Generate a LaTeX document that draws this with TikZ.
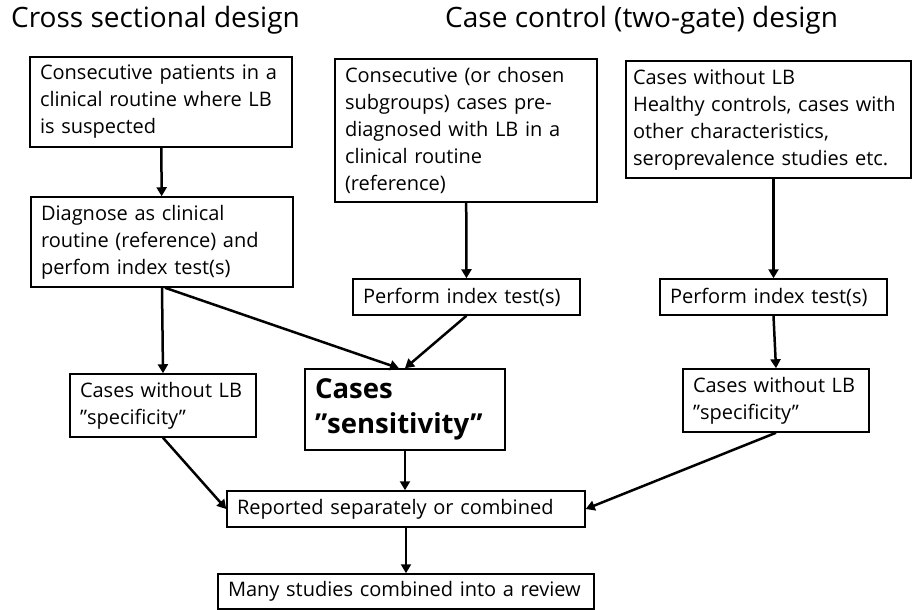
\documentclass[tikz,border=0pt]{standalone}
\usepackage{fontspec}
\setmainfont{Open Sans}
\usetikzlibrary{arrows.meta}
\begin{document}
\begin{tikzpicture}[x=1pt,y=-1pt,
  box/.style={draw, line width=1.5pt, align=left, inner xsep=10pt, inner ysep=0pt,
    font=\fontsize{20}{27}\selectfont},
  title/.style={anchor=base west, inner sep=0pt, font=\fontsize{28}{32}\selectfont},
  arr/.style={line width=2.5pt, -{Triangle[length=9pt,width=10pt]}}]
\useasboundingbox (0,0) rectangle (913,610);

\node[title] (t1) at (11,28) {Cross sectional design};
\node[title] (t2) at (445,28) {Case control (two-gate) design};

\node[box, text width=242pt, minimum height=90pt] (A) at (161,102)
  {Consecutive patients in a\\clinical routine where LB\\is suspected};
\node[box, text width=242pt, minimum height=90pt] (B) at (162,242)
  {Diagnose as clinical\\routine (reference) and\\perfom index test(s)};
\node[box, text width=242pt, minimum height=143pt] (C) at (466,130.5)
  {Consecutive (or chosen\\subgroups) cases pre-\\diagnosed with LB in a\\clinical routine\\(reference)};
\node[box, inner xsep=7pt, text width=271pt, minimum height=117pt] (D) at (768.5,119.5)
  {Cases without LB\\\mbox{Healthy controls, cases with}\\other characteristics,\\seroprevalence studies etc.};
\node[box, text width=207pt, minimum height=36pt] (E) at (466.5,297)
  {Perform index test(s)};
\node[box, text width=207pt, minimum height=36pt] (F) at (773.5,297)
  {Perform index test(s)};
\node[box, text width=166pt, minimum height=63pt] (G) at (163,405.5)
  {Cases without LB\\”specificity”};
\node[box, text width=180pt, minimum height=81pt, font=\fontsize{27.5}{35}\selectfont\bfseries] (H) at (405,409.5)
  {Cases\\”sensitivity”};
\node[box, text width=166pt, minimum height=63pt] (I) at (776,400.5)
  {Cases without LB\\”specificity”};
\node[box, text width=338pt, minimum height=36pt] (J) at (406,509)
  {Reported separately or combined};
\node[box, text width=356pt, minimum height=35pt] (K) at (406,591.5)
  {\mbox{Many studies combined into a review}};

\draw[arr] (A) -- (B);
\draw[arr] (C) -- (E);
\draw[arr] (D.south -| F.north) -- (F.north);
\draw[arr] (B.south) -- (G.north);
\draw[arr] ([xshift=3pt]B.south) -- ([xshift=-6pt]H.north);
\draw[arr] (E.south) -- (H.north);
\draw[arr] (F.south) -- (I.north);
\draw[arr] (G.south) -- (J.west);
\draw[arr] (H.south) -- (H.south |- J.north);
\draw[arr] (I.south) -- (J.east);
\draw[arr] (J.south) -- (J.south |- K.north);
\end{tikzpicture}
\end{document}
